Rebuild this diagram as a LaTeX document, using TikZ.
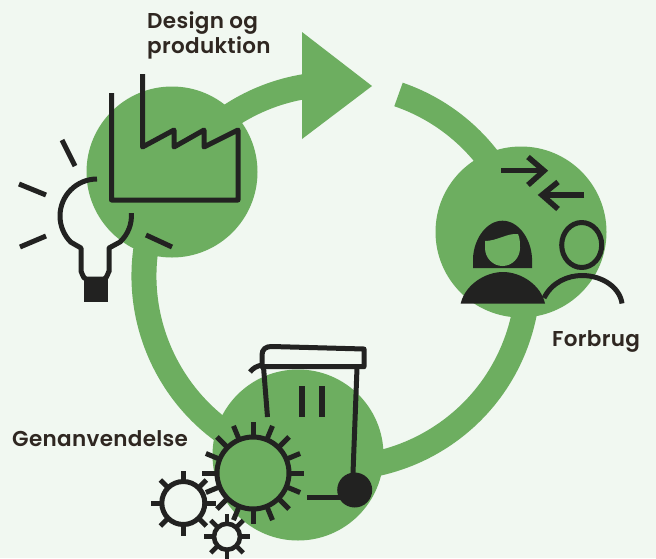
\documentclass[tikz,border=0pt]{standalone}
\usepackage{fontspec}
\setmainfont[BoldFont={Poppins SemiBold},LetterSpace=1.5]{Poppins}
\definecolor{loopgreen}{HTML}{6DAE60}
\definecolor{paper}{HTML}{F1F8F1}
\definecolor{ink}{HTML}{222221}
\definecolor{labelink}{HTML}{2F2721}
\tikzset{
  hub/.style={circle,fill=loopgreen,minimum size=171pt,inner sep=0pt},
  loopband/.style={draw=loopgreen,line width=25pt},
  icon/.style={draw=ink,line width=5pt,line join=round},
  ray/.style={draw=ink,line width=5pt},
  tag/.style={text=labelink,font=\bfseries\fontsize{21.5}{25}\selectfont,inner sep=0pt,align=left}
}
\newcommand{\gearwheel}[5]{% centre, ring radius, tip radius, teeth, line width
  \draw[draw=ink,line width=#5] #1 circle[radius=#2];
  \foreach \a in {1,...,#4}
    \draw[draw=ink,line width=#5] #1 ++({\a*360/#4}:#2) -- ++({\a*360/#4}:{#3-#2});
}
\begin{document}
\begin{tikzpicture}[x=1pt,y=-1pt]
  \useasboundingbox (0,0) rectangle (656,558);
  \fill[paper] (0,0) rectangle (656,558);

  \coordinate (ringcentre) at (336,276);
  \draw[loopband] (ringcentre) ++(-71:192) arc[start angle=-71,end angle=265,radius=192];
  \fill[loopgreen] (302,32) -- (372,86) -- (302,139) -- cycle;

  \begin{scope}[every node/.style={hub}]
    \node (design) at (172,172) {};
    \node (use) at (521,232) {};
    \node (recycle) at (298,455) {};
  \end{scope}

  \begin{scope}[every node/.style={tag}]
    \node[anchor=base west] (designlabel) at (147,53) {Design og\\produktion};
    \node[anchor=base west] (uselabel) at (552,346) {Forbrug};
    \node[anchor=base west] (recyclelabel) at (12,446) {Genanvendelse};
  \end{scope}

  % factory
  \draw[icon] (111.5,93) -- (111.5,200) -- (238,200) -- (238,130) -- (204,147) -- (204,130)
    -- (174,147) -- (174,130) -- (142.5,147) -- (142.5,74);

  % bulb
  \draw[icon] (97,179) arc[start angle=-90,end angle=-225,radius=37] -- (81,248) -- (81,272)
    to[out=90,in=180] (86,279) -- (104,279) to[out=0,in=90] (109,272) -- (109,248) -- (120,242)
    arc[start angle=47,end angle=-4,radius=36];
  \fill[ink] (84,277) rectangle (108,302);
  \draw[ray] (62,140) -- (75,166);
  \draw[ray] (19,184) -- (46,195);
  \draw[ray] (20,247) -- (46,236);
  \draw[ray] (146,235) -- (172,247);

  % arrows
  \draw[icon,line width=5.5pt,line join=miter] (501,170.7) -- (543,170.7);
  \draw[icon,line width=5.5pt,line join=miter] (528,157) -- (544,170.7) -- (528,185);
  \draw[icon,line width=5.5pt,line join=miter] (584,195) -- (543,195);
  \draw[icon,line width=5.5pt,line join=miter] (558,182) -- (542,195) -- (558,209);

  % people
  \fill[ink] (473,268) -- (473,258) .. controls (474,238) and (487,220.7) .. (502.5,220.7)
    .. controls (518,220.7) and (531,238) .. (532,258) -- (532,268) -- cycle;
  \fill[loopgreen] (485,241) .. controls (497,241) and (507,233) .. (518,234)
    .. controls (520,238) and (520,244) .. (520,248) .. controls (520,258) and (512,266) .. (502.5,266)
    .. controls (493,266) and (485,258) .. (485,248) -- cycle;
  \fill[ink] (460.7,303.5) .. controls (465,285) and (485,272) .. (503,272)
    .. controls (521,272) and (541,285) .. (545,303.5) -- cycle;
  \draw[icon] (581.7,245) ellipse[x radius=20,y radius=22.5];
  \draw[icon] (544,298) .. controls (552,282) and (568,275.5) .. (582,275.5)
    .. controls (603,275.5) and (620,288) .. (622,303.5);

  % bin
  \draw[icon] (262,366.7) -- (364,366.7) -- (364,349) -- (272,346.5)
    .. controls (266,346.3) and (262,349) .. (262,355) -- cycle;
  \draw[icon] (250,372) .. controls (253,368) and (257,366) .. (262,365);
  \draw[icon] (263.5,367) -- (267.5,417);
  \draw[icon] (357,368) -- (353,473);
  \draw[icon,line width=6pt] (302,386) -- (302,417);
  \draw[icon,line width=6pt] (322,386) -- (322,417);
  \draw[icon] (307,497) -- (340,497);
  \fill[ink] (354.7,490) circle[radius=17.5];

  % gears
  \gearwheel{(253,473)}{36}{51}{16}{5pt}
  \gearwheel{(183.3,503)}{21.5}{32.5}{8}{5pt}
  \gearwheel{(227,536.7)}{13}{23}{8}{4.6pt}
\end{tikzpicture}
\end{document}
